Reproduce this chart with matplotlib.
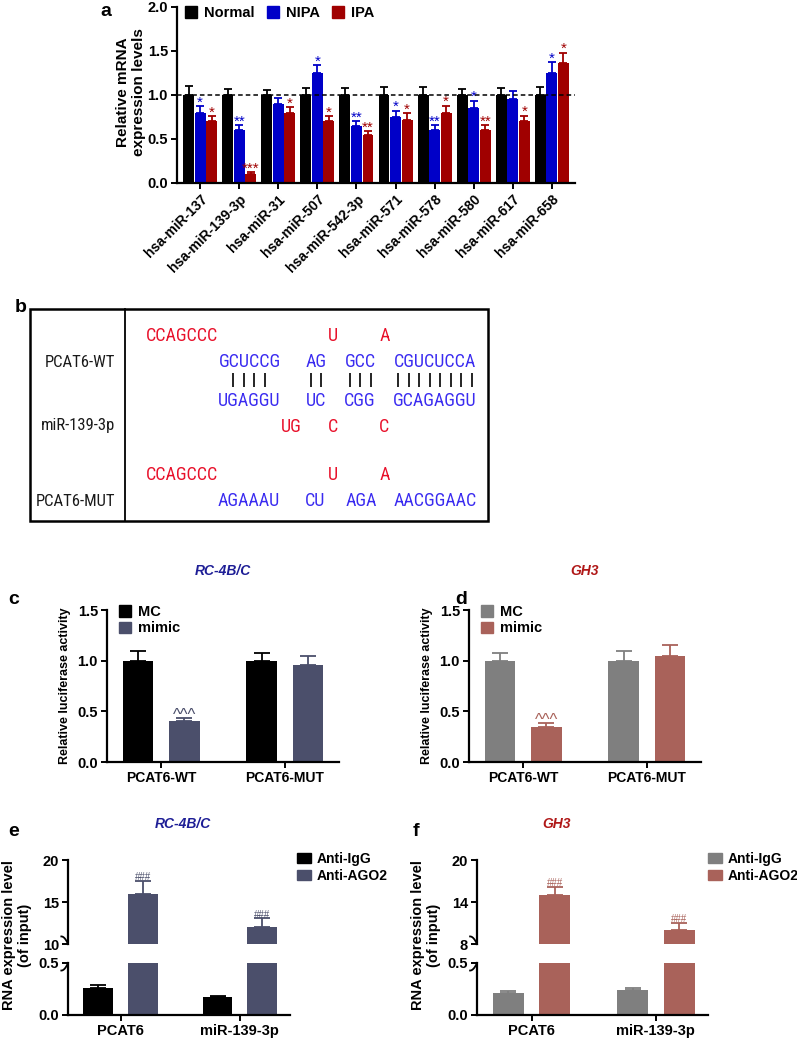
import matplotlib
matplotlib.use('Agg')
import matplotlib.pyplot as plt
from matplotlib.patches import Patch, Rectangle
from matplotlib import font_manager as fm
import numpy as np

W, H = 797, 1039
plt.rcParams['font.family'] = ['Liberation Sans', 'DejaVu Sans']
plt.rcParams['font.weight'] = 'bold'
plt.rcParams['axes.linewidth'] = 1.6

# ---------------- data ----------------
mirnas = ['hsa-miR-137', 'hsa-miR-139-3p', 'hsa-miR-31', 'hsa-miR-507', 'hsa-miR-542-3p',
          'hsa-miR-571', 'hsa-miR-578', 'hsa-miR-580', 'hsa-miR-617', 'hsa-miR-658']
a_normal = [1.0, 1.0, 1.0, 1.0, 1.0, 1.0, 1.0, 1.0, 1.0, 1.0]
a_normal_err = [0.10, 0.07, 0.06, 0.075, 0.08, 0.09, 0.095, 0.07, 0.08, 0.095]
a_nipa = [0.80, 0.60, 0.90, 1.25, 0.65, 0.75, 0.60, 0.85, 0.95, 1.25]
a_nipa_err = [0.07, 0.055, 0.066, 0.09, 0.05, 0.07, 0.06, 0.085, 0.10, 0.12]
a_ipa = [0.70, 0.10, 0.80, 0.70, 0.54, 0.72, 0.80, 0.60, 0.70, 1.36]
a_ipa_err = [0.06, 0.02, 0.06, 0.06, 0.05, 0.07, 0.08, 0.06, 0.065, 0.12]
a_nipa_sig = ['*', '**', '', '*', '**', '*', '**', '*', '', '*']
a_ipa_sig = ['*', '***', '*', '*', '**', '*', '*', '**', '*', '*']
a_series = ['Normal', 'NIPA', 'IPA']

b_labels = ['PCAT6-WT', 'miR-139-3p', 'PCAT6-MUT']
wt_loop = ['CCAGCCC', 'U', 'A']
wt_pair = ['GCUCCG', 'AG', 'GCC', 'CGUCUCCA']
bond_counts = [4, 2, 3, 8]
mir_pair = ['UGAGGU', 'UC', 'CGG', 'GCAGAGGU']
mir_loop = ['UG', 'C', 'C']
mut_loop = ['CCAGCCC', 'U', 'A']
mut_pair = ['AGAAAU', 'CU', 'AGA', 'AACGGAAC']

luc_groups = ['PCAT6-WT', 'PCAT6-MUT']
luc_series = ['MC', 'mimic']
c_mc = [1.0, 1.0]
c_mc_err = [0.10, 0.08]
c_mimic = [0.40, 0.96]
c_mimic_err = [0.035, 0.09]
d_mc = [1.0, 1.0]
d_mc_err = [0.08, 0.10]
d_mimic = [0.35, 1.05]
d_mimic_err = [0.035, 0.10]
luc_sig = ['^^^', '']

rip_groups = ['PCAT6', 'miR-139-3p']
rip_series = ['Anti-IgG', 'Anti-AGO2']
e_igg = [0.26, 0.17]
e_igg_err = [0.025, 0.015]
e_ago2 = [16.0, 12.0]
e_ago2_err = [1.5, 1.05]
f_igg = [0.21, 0.24]
f_igg_err = [0.025, 0.015]
f_ago2 = [15.0, 10.0]
f_ago2_err = [1.2, 1.0]
rip_sig = ['###', '###']

# ---------------- colours ----------------
C_BLACK = '#000000'
C_BLUE = '#0000C8'
C_RED = '#A00000'
C_SLATE = '#4B4F6B'
C_GREY = '#7F7F7F'
C_BRICK = '#A9625A'
C_TITLE_BLUE = '#1E1E96'
C_TITLE_RED = '#B01818'
SEQ_RED = '#E8102A'
SEQ_BLUE = '#3A2BF0'


# ---------------- narrow font for panel b ----------------
def pick_narrow():
    for fam in ['Liberation Sans Narrow', 'Arial Narrow', 'Roboto Condensed',
                'Open Sans Condensed', 'Noto Sans Condensed', 'DejaVu Sans Condensed']:
        try:
            fm.findfont(fm.FontProperties(family=fam), fallback_to_default=False)
            return dict(family=fam), 13, 12
        except Exception:
            pass
    for fam in ['Noto Sans', 'Open Sans', 'DejaVu Sans', 'Roboto']:
        try:
            p = fm.findfont(fm.FontProperties(family=fam, stretch='condensed'),
                            fallback_to_default=False)
            if 'ondensed' in p or 'arrow' in p:
                return dict(family=fam, stretch='condensed'), 13, 12
        except Exception:
            pass
    return dict(family='Liberation Sans'), 11, 10.5


NARROW, SEQ_FS, LAB_FS = pick_narrow()

fig = plt.figure(figsize=(W / 100, H / 100), dpi=100)


def ax_px(left, top, right, bottom):
    return fig.add_axes([left / W, 1 - bottom / H, (right - left) / W, (bottom - top) / H])


def fx(x):
    return x / W


def fy(y):
    return 1 - y / H


def style(ax):
    for s in ['top', 'right']:
        ax.spines[s].set_visible(False)
    ax.tick_params(labelsize=10.5, width=1.4, length=4, pad=2.5)


# ================= panel a =================
axa = ax_px(177, 7, 575, 183)
style(axa)
x = np.arange(len(mirnas))
bw = 0.28
off = 0.295
for vals, errs, col, dx in [(a_normal, a_normal_err, C_BLACK, -off),
                            (a_nipa, a_nipa_err, C_BLUE, 0),
                            (a_ipa, a_ipa_err, C_RED, off)]:
    axa.bar(x + dx, vals, bw, color=col, yerr=[np.zeros(len(errs)), errs],
            error_kw=dict(ecolor=col, elinewidth=1.3, capsize=2.6, capthick=1.3))
for i in range(len(mirnas)):
    if a_nipa_sig[i]:
        axa.text(x[i], a_nipa[i] + a_nipa_err[i] - 0.005, a_nipa_sig[i], color=C_BLUE,
                 ha='center', va='baseline', fontsize=11, fontweight='normal')
    if a_ipa_sig[i]:
        axa.text(x[i] + off, a_ipa[i] + a_ipa_err[i] - 0.005, a_ipa_sig[i], color=C_RED,
                 ha='center', va='baseline', fontsize=11, fontweight='normal')
axa.axhline(1.0, color='black', lw=1.1, ls=(0, (3, 2)), zorder=5)
axa.set_xlim(-0.59, 9.59)
axa.set_ylim(0, 2.0)
axa.set_yticks([0, 0.5, 1.0, 1.5, 2.0])
axa.set_yticklabels(['0.0', '0.5', '1.0', '1.5', '2.0'])
axa.set_xticks(x)
axa.set_xticklabels(mirnas, rotation=45, ha='right', rotation_mode='anchor', fontsize=10)
handles = [Patch(color=c) for c in [C_BLACK, C_BLUE, C_RED]]
axa.legend(handles, a_series, loc='upper left', bbox_to_anchor=(fx(185), fy(6)),
           bbox_transform=fig.transFigure, ncol=3, frameon=False, fontsize=10.5,
           handlelength=0.8, handleheight=0.8, handletextpad=0.5, columnspacing=0.85,
           borderpad=0, borderaxespad=0)
fig.text(fx(131), fy(92), 'Relative mRNA\nexpression levels', rotation=90, ha='center',
         va='center', fontsize=11, fontweight='bold', linespacing=1.1)
fig.text(fx(100), fy(12), 'a', fontsize=14, fontweight='bold', ha='left', va='center')

# ================= panel b =================
ov = fig.add_axes([0, 0, 1, 1], zorder=-1)
ov.set_xlim(0, W)
ov.set_ylim(H, 0)
ov.axis('off')
ov.add_patch(Rectangle((30, 309), 458, 212, fill=False, lw=1.8, ec='black'))
ov.plot([125, 125], [309, 521], color='black', lw=1.3)
fig.text(fx(15), fy(307), 'b', fontsize=14, fontweight='bold', ha='left', va='center')

seqfont = dict(NARROW, fontweight='normal', fontsize=SEQ_FS, ha='center', va='baseline')
lab_base = [367, 430, 506]
for lab, yb in zip(b_labels, lab_base):
    ov.text(115, yb, lab, color='#1a1a1a', **{**seqfont, 'ha': 'right', 'fontsize': LAB_FS})
loop_x = [182, 333, 385]
pair_x = [249.5, 316.5, 360, 435]
mirloop_x = [291, 333, 384]
mutpair_x = [248.5, 315.5, 361.5, 435]
for s, xx in zip(wt_loop, loop_x):
    ov.text(xx, 341, s, color=SEQ_RED, **seqfont)
for s, xx in zip(wt_pair, pair_x):
    ov.text(xx, 367, s, color=SEQ_BLUE, **seqfont)
for n, xx in zip(bond_counts, [249, 316, 360.5, 435]):
    xs = xx + (np.arange(n) - (n - 1) / 2) * 10.5
    ov.vlines(xs, 373, 387, color='black', lw=1.2)
for s, xx in zip(mir_pair, pair_x):
    ov.text(xx, 406, s, color=SEQ_BLUE, **seqfont)
for s, xx in zip(mir_loop, mirloop_x):
    ov.text(xx, 432, s, color=SEQ_RED, **seqfont)
for s, xx in zip(mut_loop, loop_x):
    ov.text(xx, 480, s, color=SEQ_RED, **seqfont)
for s, xx in zip(mut_pair, mutpair_x):
    ov.text(xx, 506, s, color=SEQ_BLUE, **seqfont)


# ================= panels c, d =================
def luc_panel(left, right, mc, mce, mi, mie, c1, c2, title, tx, tcol, letter, lx, ylx):
    ax = ax_px(left, 610, right, 762)
    style(ax)
    g = np.arange(len(luc_groups))
    w = 0.245
    o = 0.188
    ax.bar(g - o, mc, w, color=c1, yerr=[np.zeros(2), mce],
           error_kw=dict(ecolor=c1, elinewidth=1.3, capsize=6, capthick=1.3))
    ax.bar(g + o, mi, w, color=c2, yerr=[np.zeros(2), mie],
           error_kw=dict(ecolor=c2, elinewidth=1.3, capsize=6, capthick=1.3))
    for i in range(2):
        if luc_sig[i]:
            ax.text(g[i] + o, mi[i] + mie[i] - 0.02, luc_sig[i], color=c2, ha='center',
                    va='baseline', fontsize=12, fontweight='normal')
    ax.set_xlim(-0.437, 1.437)
    ax.set_ylim(0, 1.5)
    ax.set_yticks([0, 0.5, 1.0, 1.5])
    ax.set_yticklabels(['0.0', '0.5', '1.0', '1.5'])
    ax.set_xticks(g)
    ax.set_xticklabels(luc_groups, fontsize=10)
    ax.legend([Patch(color=c1), Patch(color=c2)], luc_series, loc='upper left',
              bbox_to_anchor=(fx(left + 12), fy(605)), bbox_transform=fig.transFigure,
              frameon=False, fontsize=10.5, handlelength=0.8, handleheight=0.8,
              handletextpad=0.5, labelspacing=0.15, borderpad=0, borderaxespad=0)
    fig.text(fx(tx), fy(571), title, color=tcol, fontsize=10,
             fontweight='bold', fontstyle='italic', ha='center', va='center')
    fig.text(fx(lx), fy(600), letter, fontsize=14, fontweight='bold', ha='left', va='center')
    fig.text(fx(ylx), fy(686), 'Relative luciferase activity', rotation=90, fontsize=9,
             fontweight='bold', ha='center', va='center')
    return ax


luc_panel(107, 339, c_mc, c_mc_err, c_mimic, c_mimic_err, C_BLACK, C_SLATE,
          'RC-4B/C', 223, C_TITLE_BLUE, 'c', 8, 65)
luc_panel(469, 701, d_mc, d_mc_err, d_mimic, d_mimic_err, C_GREY, C_BRICK,
          'GH3', 585, C_TITLE_RED, 'd', 455, 427)


# ================= panels e, f =================
def rip_panel(left, right, igg, igge, ago, agoe, c1, c2, upper_lim, upper_ticks,
              title, tx, tcol, letter, lx, ylx, legx):
    top = ax_px(left, 860, right, 944)
    bot = ax_px(left, 963, right, 1015)
    g = np.arange(len(rip_groups))
    w = 0.25
    o = 0.187
    for ax in (top, bot):
        ax.bar(g - o, igg, w, color=c1, yerr=[np.zeros(2), igge],
               error_kw=dict(ecolor=c1, elinewidth=1.3, capsize=6, capthick=1.3))
        ax.bar(g + o, ago, w, color=c2, yerr=[np.zeros(2), agoe],
               error_kw=dict(ecolor=c2, elinewidth=1.3, capsize=6, capthick=1.3))
        ax.set_xlim(-0.44, 1.42)
        for s in ['top', 'right']:
            ax.spines[s].set_visible(False)
        ax.tick_params(labelsize=10.5, width=1.4, length=4, pad=2.5)
    for i in range(2):
        top.text(g[i] + o, ago[i] + agoe[i] + 0.1, rip_sig[i], color=c2, ha='center',
                 va='baseline', fontsize=7, fontweight='normal')
    top.set_ylim(upper_lim)
    top.set_yticks(upper_ticks)
    top.spines['bottom'].set_visible(False)
    top.set_xticks([])
    bot.set_ylim(0, 0.5)
    bot.set_yticks([0, 0.5])
    bot.set_yticklabels(['0.0', '0.5'])
    bot.set_xticks(g)
    bot.set_xticklabels(rip_groups, fontsize=10.5)
    # break marks
    t = np.linspace(0, 1, 20)
    top.plot(-0.03 * t, 0.09 * (1 - (1 - t) ** 2), transform=top.transAxes,
             color='black', lw=1.3, clip_on=False)
    bot.plot(-0.03 * t, 1 - 0.145 * (1 - (1 - t) ** 2), transform=bot.transAxes,
             color='black', lw=1.3, clip_on=False)
    top.legend([Patch(color=c1), Patch(color=c2)], rip_series, loc='upper left',
               bbox_to_anchor=(fx(legx), fy(852)), bbox_transform=fig.transFigure,
               frameon=False, fontsize=10, handlelength=1.0, handleheight=0.8,
               handletextpad=0.4, labelspacing=0.2, borderpad=0, borderaxespad=0)
    fig.text(fx(tx), fy(824), title, color=tcol, fontsize=10,
             fontweight='bold', fontstyle='italic', ha='center', va='center')
    fig.text(fx(lx), fy(832), letter, fontsize=14, fontweight='bold', ha='left', va='center')
    fig.text(fx(ylx), fy(935), 'RNA expression level\n(of input)', rotation=90, fontsize=10.5,
             fontweight='bold', ha='center', va='center', linespacing=1.15)


rip_panel(68, 290, e_igg, e_igg_err, e_ago2, e_ago2_err, C_BLACK, C_SLATE, (10, 20),
          [10, 15, 20], 'RC-4B/C', 183, C_TITLE_BLUE, 'e', 8, 17, 297)
rip_panel(477, 708, f_igg, f_igg_err, f_ago2, f_ago2_err, C_GREY, C_BRICK, (8, 20),
          [8, 14, 20], 'GH3', 557, C_TITLE_RED, 'f', 413, 426, 708)

fig.savefig('out.png', dpi=100)
